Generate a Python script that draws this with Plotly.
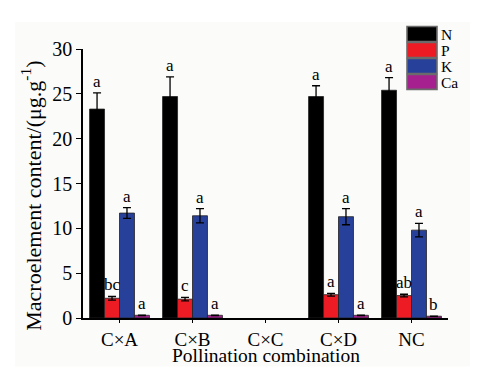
import plotly.graph_objects as go

categories = ["C×A", "C×B", "C×C", "C×D", "NC"]
series = ["N", "P", "K", "Ca"]
colors = ["#000000", "#ED1C24", "#27409A", "#A6218F"]

N_vals = [23.3, 24.7, None, 24.7, 25.4]
N_err = [1.8, 2.2, None, 1.2, 1.4]
P_vals = [2.2, 2.1, None, 2.6, 2.5]
P_err = [0.2, 0.2, None, 0.15, 0.15]
K_vals = [11.7, 11.4, None, 11.3, 9.8]
K_err = [0.6, 0.8, None, 0.9, 0.75]
Ca_vals = [0.3, 0.3, None, 0.3, 0.2]
Ca_err = [0.02, 0.02, None, 0.02, 0.02]

N_letters = ["a", "a", "", "a", "a"]
P_letters = ["bc", "c", "", "a", "ab"]
K_letters = ["a", "a", "", "a", "a"]
Ca_letters = ["a", "a", "", "a", "b"]

x_title = "Pollination combination"
y_title = "Macroelement content/(μg.g<sup>-1</sup>)"

vals = [N_vals, P_vals, K_vals, Ca_vals]
errs = [N_err, P_err, K_err, Ca_err]
letters = [N_letters, P_letters, K_letters, Ca_letters]

FONT = "Liberation Serif, Times New Roman, serif"

# page offset (browser body margin) and geometry in page pixels
OFF = 8
W, H = 478 - 2 * OFF, 375 - 2 * OFF
plot_x0, plot_x1 = 83, 448
plot_y0, plot_y1 = 49, 318.5
ml = plot_x0 - OFF
mt = plot_y0 - OFF
plot_w = plot_x1 - plot_x0
plot_h = plot_y1 - plot_y0
mr = W - ml - plot_w
mb = H - mt - plot_h
bargap = 0.18
cat_px = plot_w / len(categories)
bar_px = cat_px * (1 - bargap) / len(series)

fig = go.Figure()
for i, s in enumerate(series):
    fig.add_trace(go.Bar(
        name=s, x=categories, y=vals[i],
        marker=dict(color=colors[i], line=dict(color="#222222", width=0.8)),
        error_y=dict(type="data", array=errs[i], visible=True,
                     color="#000000", thickness=1.3, width=4),
        showlegend=False,
    ))

annotations = []
for i, s in enumerate(series):
    off = (i - (len(series) - 1) / 2) * bar_px
    for j, c in enumerate(categories):
        if letters[i][j]:
            annotations.append(dict(
                x=c, y=vals[i][j] + errs[i][j], xref="x", yref="y",
                text=letters[i][j], showarrow=False, xshift=off,
                yanchor="bottom", yshift=0,
                font=dict(family=FONT, size=17, color="#000000"),
            ))

# page-pixel positions converted to paper coords
px = lambda x: (x - plot_x0) / plot_w
py = lambda y: (plot_y1 - y) / plot_h

# axis titles
annotations.append(dict(xref="paper", yref="paper", x=px(266), y=py(356.5),
                        text=x_title, showarrow=False, xanchor="center",
                        yanchor="middle", font=dict(family=FONT, size=19.5)))
annotations.append(dict(xref="paper", yref="paper", x=px(31), y=py(196),
                        text=y_title, showarrow=False, textangle=-90,
                        xanchor="center", yanchor="middle",
                        font=dict(family=FONT, size=22)))

# custom legend
shapes = []
sw_x0, sw_x1 = 407, 437
row_top = 26.5
row_h = 16
for i, s in enumerate(series):
    y0p = row_top + i * row_h
    y1p = y0p + row_h - 1
    shapes.append(dict(type="rect", xref="paper", yref="paper",
                       x0=px(sw_x0), x1=px(sw_x1), y0=py(y1p), y1=py(y0p),
                       fillcolor=colors[i], line=dict(color="#6b6b6b", width=1.6)))
    annotations.append(dict(xref="paper", yref="paper", x=px(sw_x1 + 2),
                            y=py((y0p + y1p) / 2 + 0.5), text=s, showarrow=False,
                            xanchor="left", yanchor="middle",
                            font=dict(family=FONT, size=15.5, color="#000000")))

# faint background panel
shapes.append(dict(type="rect", xref="paper", yref="paper", layer="below",
                   x0=px(15), x1=px(W + OFF), y0=py(H + OFF), y1=py(22),
                   fillcolor="#fbfbfa", line=dict(width=0)))

fig.update_layout(
    width=W, height=H,
    margin=dict(l=ml, r=mr, t=mt, b=mb, autoexpand=False),
    paper_bgcolor="#ffffff", plot_bgcolor="rgba(0,0,0,0)",
    barmode="group", bargap=bargap, bargroupgap=0,
    font=dict(family=FONT, size=20, color="#000000"),
    xaxis=dict(
        type="category", range=[-0.5, 4.5], automargin=False,
        showline=True, linecolor="#000000", linewidth=1.5,
        ticks="outside", ticklen=3, tickwidth=1, tickcolor="#000000",
        showgrid=False, zeroline=False,
        tickfont=dict(family=FONT, size=19),
    ),
    yaxis=dict(
        range=[0, 30], tickvals=[0, 5, 10, 15, 20, 25, 30], automargin=False,
        showline=True, linecolor="#000000", linewidth=1.5,
        ticks="outside", ticklen=5, tickwidth=1, tickcolor="#000000",
        showgrid=False, zeroline=False,
        tickfont=dict(family=FONT, size=20),
    ),
    annotations=annotations,
    shapes=shapes,
)

fig.write_html("out.html")
